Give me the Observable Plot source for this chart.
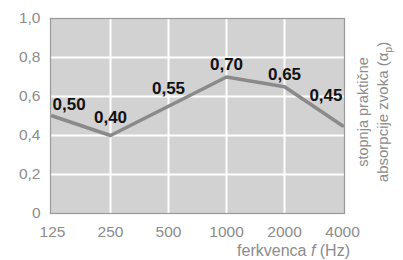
<!DOCTYPE html>
<html><head><meta charset="utf-8">
<script src="https://cdn.jsdelivr.net/npm/d3@7"></script>
<script src="https://cdn.jsdelivr.net/npm/@observablehq/plot@0.6"></script>
<style>body{margin:0;background:#fff} #chart svg{display:block}</style>
</head><body><div id="chart"></div>
<script>
const frequencies = [125, 250, 500, 1000, 2000, 4000];
const absorption = [0.50, 0.40, 0.55, 0.70, 0.65, 0.45];
const valueLabels = ["0,50", "0,40", "0,55", "0,70", "0,65", "0,45"];
const yTicks = [0, 0.2, 0.4, 0.6, 0.8, 1.0];
const yTickLabels = ["0", "0,2", "0,4", "0,6", "0,8", "1,0"];
const xTitleParts = ["ferkvenca ", "f", " (Hz)"];
const yTitleLine1 = "stopnja praktične";
const yTitleLine2Parts = ["absorpcije zvoka (α", "p", ")"];

const data = frequencies.map((f, i) => ({f, a: absorption[i], label: valueLabels[i], i}));

const font = "'Liberation Sans', Arial, sans-serif";
const gray = "#8c8c8c";

const labelStyle = {x: "f", y: "a", text: "label", fill: "#111", fontWeight: "bold", fontSize: 17};

const plot = Plot.plot({
  width: 403, height: 260,
  marginLeft: 50, marginRight: 59, marginTop: 18, marginBottom: 47,
  style: {fontFamily: font, fontSize: "15.5px", color: gray, background: "#fff", overflow: "visible"},
  x: {type: "point", domain: frequencies, padding: 0},
  y: {domain: [0, 1]},
  marks: [
    Plot.frame({fill: "#d2d2d2"}),
    Plot.gridX(frequencies.slice(1, -1), {stroke: "#fff", strokeOpacity: 1, strokeWidth: 2}),
    Plot.gridY(yTicks.slice(1, -1), {stroke: "#fff", strokeOpacity: 1, strokeWidth: 2}),
    Plot.frame({stroke: "#9a9a9a", strokeWidth: 1.2}),
    Plot.axisX(frequencies, {tickSize: 0, tickPadding: 12, tickFormat: d => String(d), label: null, fill: gray, fontSize: 15.5}),
    Plot.axisY(yTicks, {tickSize: 0, tickPadding: 10, tickFormat: d => yTickLabels[yTicks.indexOf(d)], label: null, fill: gray, fontSize: 15.5}),
    Plot.line(data, {x: "f", y: "a", stroke: "#8a8a8a", strokeWidth: 3.5}),
    Plot.text(data.filter(d => d.i === 0), {...labelStyle, textAnchor: "start", dy: -11}),
    Plot.text(data.filter(d => d.i === 1 || d.i === 2), {...labelStyle, textAnchor: "middle", dy: -18}),
    Plot.text(data.filter(d => d.i === 3 || d.i === 4), {...labelStyle, textAnchor: "middle", dy: -12}),
    Plot.text(data.filter(d => d.i === 5), {...labelStyle, textAnchor: "end", dy: -30})
  ]
});

const svg = d3.select(plot);
const xt = svg.append("text")
  .attr("x", 350).attr("y", 256)
  .attr("text-anchor", "end")
  .attr("fill", gray)
  .style("font-size", "16px")
  .style("font-family", font);
xt.append("tspan").text(xTitleParts[0]);
xt.append("tspan").attr("font-style", "italic").text(xTitleParts[1]);
xt.append("tspan").text(xTitleParts[2]);

const g = svg.append("g").attr("transform", "translate(373,112) rotate(-90)")
  .attr("fill", gray).style("font-size", "15px").style("font-family", font);
g.append("text").attr("x", 0).attr("y", -5).attr("text-anchor", "middle").style("font-size", "14.5px").text(yTitleLine1);
const l2 = g.append("text").attr("x", 0).attr("y", 15).attr("text-anchor", "middle");
l2.append("tspan").text(yTitleLine2Parts[0]);
l2.append("tspan").attr("font-size", "10.5px").attr("dy", 4).text(yTitleLine2Parts[1]);
l2.append("tspan").attr("dy", -4).text(yTitleLine2Parts[2]);

document.getElementById("chart").appendChild(plot);
</script>
</body></html>
